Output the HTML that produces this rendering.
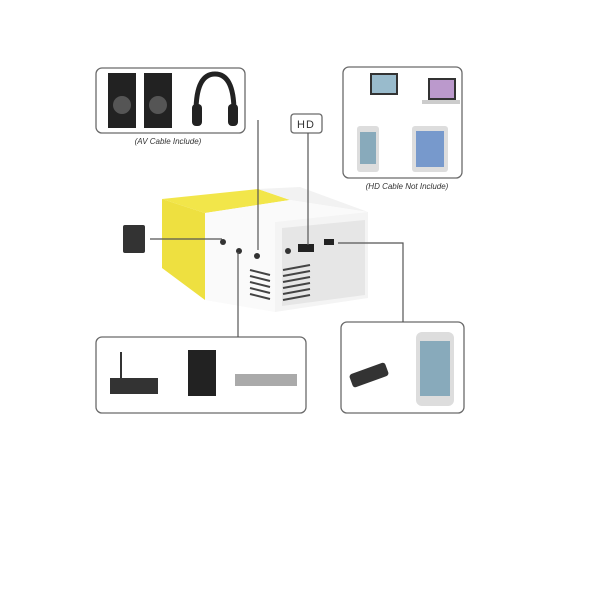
<!DOCTYPE html>
<html><head><style>
body{margin:0;background:#fff;width:600px;height:600px;overflow:hidden;font-family:"Liberation Sans",sans-serif}
</style></head><body>
<svg width="600" height="600" viewBox="0 0 600 600" xmlns="http://www.w3.org/2000/svg">
<rect width="600" height="600" fill="#fff"/>
<g fill="none" stroke="#6a6a6a" stroke-width="1.3">
<rect x="96" y="68" width="149" height="65" rx="6"/>
<rect x="343" y="67" width="119" height="111" rx="6"/>
<rect x="291" y="114" width="31" height="19" rx="3"/>
<rect x="96" y="337" width="210" height="76" rx="6"/>
<rect x="341" y="322" width="123" height="91" rx="6"/>
</g>
<text x="306" y="128" font-size="11" text-anchor="middle" fill="#333" letter-spacing="1">HD</text>
<text x="168" y="144" font-size="8" font-style="italic" text-anchor="middle" fill="#333">(AV Cable Include)</text>
<text x="407" y="189" font-size="8" font-style="italic" text-anchor="middle" fill="#333">(HD Cable Not Include)</text>
<!-- projector -->
<polygon points="162,199 258,189 290,200 205,213" fill="#f2e64a"/>
<polygon points="258,189 300,187 368,212 290,200" fill="#f2f2f2"/>
<polygon points="205,213 290,200 368,212 275,222" fill="#fafafa"/>
<polygon points="162,199 205,213 205,300 162,268" fill="#eee040"/>
<polygon points="205,213 275,222 275,312 205,300" fill="#fafafa"/>
<polygon points="275,222 368,212 368,298 275,312" fill="#f4f4f4"/>
<polygon points="282,228 365,220 365,295 282,306" fill="#e6e6e6"/>
<rect x="298" y="244" width="16" height="8" fill="#222"/>
<rect x="324" y="239" width="10" height="6" fill="#222"/>
<circle cx="288" cy="251" r="3" fill="#333"/>
<g stroke="#444" stroke-width="2">
<line x1="283" y1="270" x2="310" y2="265"/><line x1="283" y1="276" x2="310" y2="271"/><line x1="283" y1="282" x2="310" y2="277"/><line x1="283" y1="288" x2="310" y2="283"/><line x1="283" y1="294" x2="310" y2="289"/><line x1="283" y1="300" x2="310" y2="295"/>
<line x1="250" y1="270" x2="270" y2="275"/><line x1="250" y1="276" x2="270" y2="281"/><line x1="250" y1="282" x2="270" y2="287"/><line x1="250" y1="288" x2="270" y2="293"/><line x1="250" y1="294" x2="270" y2="299"/>
</g>
<circle cx="223" cy="242" r="3" fill="#333"/><circle cx="239" cy="251" r="3" fill="#333"/><circle cx="257" cy="256" r="3" fill="#333"/>
<!-- sd card -->
<rect x="123" y="225" width="22" height="28" rx="2" fill="#333"/>
<!-- connectors -->
<g fill="none" stroke="#555" stroke-width="1.2">
<polyline points="258,120 258,250"/>
<polyline points="308,133 308,245"/>
<polyline points="150,239 222,239"/>
<polyline points="238,252 238,337"/>
<polyline points="338,243 403,243 403,322"/>
</g>
<!-- top-left content -->
<rect x="108" y="73" width="28" height="55" fill="#222"/><circle cx="122" cy="105" r="9" fill="#555"/>
<rect x="144" y="73" width="28" height="55" fill="#222"/><circle cx="158" cy="105" r="9" fill="#555"/>
<path d="M196,112 Q196,74 215,74 Q234,74 234,112" fill="none" stroke="#222" stroke-width="5"/>
<rect x="192" y="104" width="10" height="22" rx="4" fill="#222"/><rect x="228" y="104" width="10" height="22" rx="4" fill="#222"/>
<!-- top-right devices -->
<rect x="370" y="73" width="28" height="22" fill="#333"/><rect x="372" y="75" width="24" height="18" fill="#9bc"/>
<rect x="428" y="78" width="28" height="22" fill="#333"/><rect x="430" y="80" width="24" height="18" fill="#b9c"/>
<rect x="422" y="100" width="38" height="4" fill="#ccc"/>
<rect x="357" y="126" width="22" height="46" rx="3" fill="#ddd"/><rect x="360" y="132" width="16" height="32" fill="#8ab"/>
<rect x="412" y="126" width="36" height="46" rx="3" fill="#ddd"/><rect x="416" y="131" width="28" height="36" fill="#79c"/>
<!-- bottom-left devices -->
<rect x="110" y="378" width="48" height="16" fill="#333"/><line x1="121" y1="352" x2="121" y2="378" stroke="#333" stroke-width="2"/>
<rect x="188" y="350" width="28" height="46" fill="#222"/>
<rect x="235" y="374" width="62" height="12" fill="#aaa"/>
<!-- bottom-right devices -->
<rect x="350" y="368" width="38" height="14" rx="3" fill="#333" transform="rotate(-20 369 375)"/>
<rect x="416" y="332" width="38" height="74" rx="6" fill="#ddd"/><rect x="420" y="341" width="30" height="55" fill="#8ab"/>
</svg>
</body></html>
